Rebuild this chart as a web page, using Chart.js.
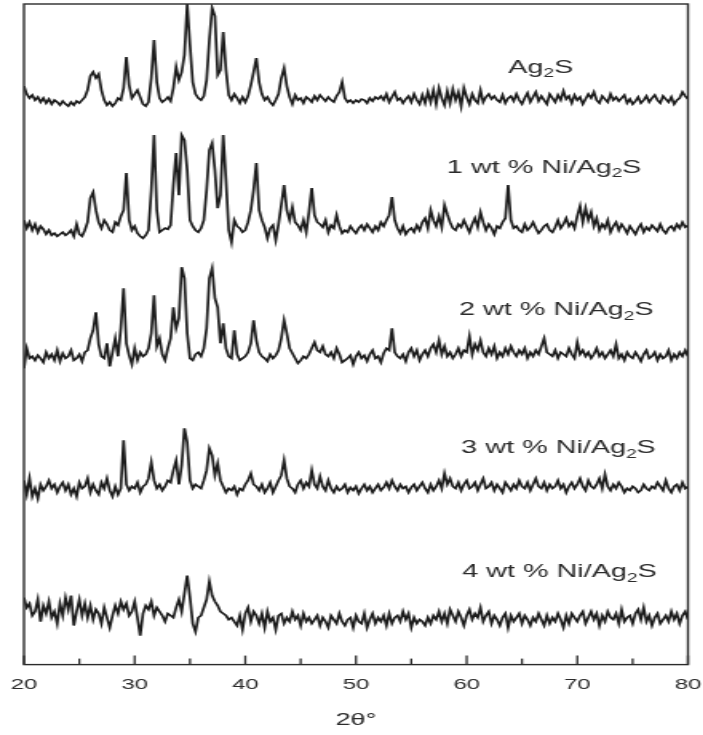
<!DOCTYPE html>
<html>
<head>
<meta charset="utf-8">
<script src="https://cdn.jsdelivr.net/npm/chart.js@4/dist/chart.umd.min.js"></script>
<style>
  html, body { margin: 0; padding: 0; background: #fff; overflow: hidden; }
  /* the figure is drawn narrow and widened, like the printed plate */
  #wrap { width: 440px; height: 735px; transform: scale(1.598, 1); transform-origin: 0 0; }
</style>
</head>
<body>
<div id="wrap"><canvas id="chart-canvas"></canvas></div>
<script>
// scan: 20-80 deg 2theta, 0.25 deg step
const twoTheta = Array.from({ length: 241 }, (_, i) => 20 + i * 0.25);

const majorTicks = [20, 30, 40, 50, 60, 70, 80];
const minorTicks = [25, 35, 45, 55, 65, 75];

const sampleNames = ['Ag2S', '1 wt % Ni/Ag2S', '2 wt % Ni/Ag2S', '3 wt % Ni/Ag2S', '4 wt % Ni/Ag2S'];

// vertical offset of each pattern in the stack (a.u.)
const offsets = [564, 434, 306, 174, 47];

// intensities above background (a.u.), one row per degree
const ag2s = [
  14, 6, 2, 5,
  0, 3, -2, 2,
  -3, 1, -4, 0,
  -2, -5, -1, -4,
  -6, -2, -5, -1,
  -3, 0, 3, 10,
  24, 28, 22, 26,
  10, 0, -5, -2,
  -6, -3, 2, 0,
  12, 43, 15, 2,
  6, 10, 3, -4,
  -6, -2, 22, 60,
  18, 2, -2, 0,
  3, -1, 12, 33,
  20, 28, 45, 96,
  55, 18, 6, 2,
  0, 4, 20, 60,
  92, 84, 25, 30,
  68, 30, 5, 0,
  6, 2, -3, 3,
  -2, 4, 15, 28,
  42, 18, 6, 0,
  3, -2, -5, 0,
  6, 22, 32, 14,
  3, -4, 5, 0,
  2, -3, 3, 1,
  -2, 4, 0, 5,
  2, -1, 3, 0,
  -2, 4, 8, 18,
  2, -2, 0, -3,
  0, -2, 1, 0,
  -3, 2, -1, 3,
  1, 4, 0, 6,
  -2, 3, 8, 0,
  2, -3, 1, 4,
  -2, 6, 0, -4,
  5, -3, 8, -2,
  10, -4, 12, 2,
  -5, 9, -3, 11,
  0, 8, -6, 12,
  3, -4, 6, 0,
  -3, 10, -2, 3,
  6, 1, 4, 0,
  -2, 5, -3, 2,
  4, -1, 6, 0,
  -4, 2, 7, -2,
  3, 8, -1, 4,
  0, -4, 6, 2,
  -2, 5, 0, 9,
  1, 4, -3, 5,
  0, 3, -4, 1,
  6, 2, 8, 0,
  -3, 4, 1, -2,
  6, 0, 3, -1,
  2, 5, -3, 1,
  -4, -1, 3, -3,
  0, 4, -2, 2,
  5, 0, -3, 4,
  1, -2, 3, -4,
  0, 2, 8, 4,
  1
];

const ni1 = [
  10, 2, 8, 0,
  6, -2, 4, 1,
  -4, 0, -5, -3,
  -6, -4, -2, -5,
  -3, 0, -6, 6,
  -4, -6, 0, 8,
  32, 38, 20, 8,
  2, 10, 6, 0,
  -2, 8, 5, 14,
  20, 57, 10, 0,
  4, -3, -6, -8,
  -5, 0, 40, 95,
  20, -2, 0, 2,
  1, 5, 45, 77,
  35, 95, 90, 60,
  10, 4, 0, -2,
  2, 10, 40, 80,
  87, 60, 22, 35,
  95, 50, 0, -12,
  10, 4, 2, -2,
  0, 8, 20, 40,
  67, 20, 10, 3,
  -8, 2, 5, -10,
  6, 25, 45, 20,
  10, 23, 8, 5,
  0, 10, -2, 18,
  42, 15, 8, 6,
  3, 10, -2, 5,
  2, 15, 4, -3,
  0, -2, 4, 0,
  -3, 2, 5, 0,
  6, 2, -2, 4,
  0, 8, 4, 10,
  15, 33, 10, 2,
  -3, 4, -4, 0,
  2, -2, 5, 0,
  8, 12, 2, 20,
  10, 4, 14, 3,
  25, 16, 8, 2,
  0, 6, 3, 10,
  4, -2, 6, 12,
  3, 18, 8, 0,
  6, 2, -4, 4,
  2, 8, 12, 45,
  10, 2, 4, 0,
  -2, 6, 0, 3,
  8, 2, -3, 0,
  4, 6, 0, -2,
  3, 10, 2, 6,
  12, 4, 8, 2,
  14, 24, 8, 22,
  10, 18, 4, 12,
  0, 6, 2, 10,
  -2, 4, 8, 0,
  6, 2, -3, 4,
  0, -4, 2, 6,
  -2, 3, 0, 5,
  2, -1, 6, 0,
  -3, 2, 4, 0,
  6, 2, 8, 3,
  5
];

const ni2 = [
  -10, 10, 0, 2,
  -2, 3, 0, -4,
  6, 0, 4, -2,
  8, -3, 5, 0,
  2, 8, -2, 0,
  4, -3, 6, 8,
  20, 28, 46, 14,
  2, 0, 15, -8,
  6, 20, 2, 30,
  70, 15, 3, -6,
  10, -2, 6, 2,
  4, 10, 25, 63,
  12, 20, 4, -2,
  10, 20, 51, 30,
  40, 91, 80, 25,
  0, -2, 4, 6,
  2, 10, 30, 80,
  90, 60, 51, 15,
  35, 10, 2, 0,
  28, 4, -2, 0,
  2, 6, 15, 38,
  18, 6, 2, 0,
  -3, 4, 0, 3,
  8, 20, 38, 25,
  10, 5, 0, -5,
  -2, 2, 0, 4,
  10, 16, 8, 6,
  12, 4, 2, 6,
  0, 10, 4, -4,
  -2, 0, 3, -6,
  2, 6, 0, 3,
  -3, 4, 8, 0,
  2, -4, 5, 10,
  8, 30, 6, 2,
  0, 4, -3, 6,
  10, 2, 8, -2,
  4, 8, 2, 10,
  14, 6, 18, 4,
  12, 2, 6, 0,
  4, 10, 2, 8,
  6, 22, 4, 14,
  8, 18, 6, 2,
  10, 4, 12, 0,
  6, 2, 10, 4,
  12, 6, 2, 8,
  4, 10, 0, 6,
  2, 8, 4, 12,
  20, 6, 4, 2,
  8, 0, 6, 4,
  2, 10, 4, 0,
  16, 4, 8, 2,
  6, 0, 4, 10,
  2, 6, 0, 4,
  8, 2, 14, 0,
  4, -2, 6, 2,
  0, 6, 2, -3,
  4, 8, 0, 2,
  6, -2, 4, 0,
  2, 8, -2, 4,
  0, 6, 2, 8,
  2
];

const ni3 = [
  10, -4, 12, -6,
  2, -8, 6, 0,
  4, 10, 2, 6,
  -2, 4, 8, 0,
  6, -4, 2, -6,
  8, 2, 4, 12,
  -2, 6, 0, -4,
  8, 2, 12, 0,
  -6, 4, -4, 2,
  50, 6, 0, 4,
  2, 8, -2, 4,
  6, 12, 28, 10,
  2, 6, 0, 4,
  10, 8, 20, 30,
  6, 25, 62, 48,
  10, 2, 6, 4,
  2, 10, 20, 42,
  35, 15, 27, 10,
  4, -2, 2, 0,
  4, -4, 2, 0,
  6, 10, 17, 6,
  4, 0, 6, -2,
  2, 8, -2, 4,
  10, 15, 30, 12,
  4, 2, -2, 6,
  10, 2, 8, 4,
  20, 6, 2, 14,
  4, 0, 10, 2,
  -2, 4, 0, 2,
  6, -2, 3, 0,
  4, -3, 2, 6,
  0, 4, -2, 2,
  6, 0, 3, 8,
  2, 10, 4, 0,
  6, 2, 4, -2,
  3, 6, 0, 4,
  8, 2, -2, 6,
  0, 4, 10, 2,
  17, 6, 12, 4,
  2, 8, 0, 6,
  10, 2, 4, 8,
  0, 6, 12, 2,
  4, 8, 0, 6,
  2, -2, 8, 4,
  0, 6, 2, 10,
  4, 2, 8, 0,
  6, 12, 4, 2,
  8, 0, 6, 2,
  4, 10, 2, 6,
  -2, 4, 8, 2,
  6, 12, 4, 0,
  10, 4, 2, 6,
  12, 2, 16, 4,
  0, 6, 2, 8,
  4, -2, 2, 0,
  4, 2, -2, 0,
  6, 2, 0, 4,
  2, 8, 4, 0,
  10, 2, -2, 4,
  6, 0, 8, 2,
  4
];

const ni4 = [
  20, 10, 14, 2,
  6, 18, -4, 12,
  4, 16, 0, 6,
  -6, 14, 2, 20,
  8, 22, -8, 6,
  18, 2, 14, 0,
  12, -2, 8, 4,
  -6, 10, 0, -10,
  2, 12, 4, 16,
  8, 14, 2, 6,
  16, 0, -18, 4,
  12, 8, 16, 2,
  10, 6, 2, -4,
  4, 2, 0, 10,
  18, 6, 24, 42,
  20, -6, -14, 0,
  2, 10, 18, 36,
  22, 16, 12, 6,
  4, 2, -2, 0,
  -4, -8, 2, -12,
  4, 10, -4, 6,
  2, -6, 4, -10,
  6, -4, 0, -12,
  2, 4, -6, 0,
  -4, 6, -2, 2,
  -8, 4, -4, 0,
  -6, -2, 2, -8,
  0, -4, -10, 2,
  -2, -6, 4, -4,
  -8, -2, 0, -10,
  2, -4, -6, 4,
  -10, -2, 4, -6,
  0, -4, 2, -8,
  4, -6, 0, 2,
  -4, 6, -2, 4,
  -10, 0, -6, -2,
  -4, -8, 0, -6,
  2, -2, 6, -4,
  4, -6, 8, 2,
  -4, 6, 0, -8,
  2, 8, -2, 4,
  0, 10, -4, 2,
  6, -6, 2, -2,
  -8, 0, 4, -10,
  2, -4, 0, 4,
  -6, 2, -2, -8,
  0, -4, 4, -2,
  -8, 2, -6, 0,
  -4, 4, -2, -10,
  2, -6, 4, 0,
  -4, 2, 6, -6,
  0, 6, -2, 4,
  -8, 2, -4, 6,
  0, -2, 4, -6,
  8, -4, 0, 2,
  -6, 4, 8, -2,
  10, -4, 2, -8,
  0, 4, -6, -2,
  2, -4, 6, -2,
  4, -6, 2, 6,
  -2
];

const patterns = [ag2s, ni1, ni2, ni3, ni4];

const ink = '#2b2b2b';

// box round the plot plus inward ticks on the 2theta axis
const frame = {
  id: 'frame',
  afterDatasetsDraw(chart) {
    const { ctx, chartArea: a, scales: { x } } = chart;
    ctx.save();
    ctx.strokeStyle = ink;
    ctx.lineWidth = 1.4;
    ctx.strokeRect(a.left, a.top, a.right - a.left, a.bottom - a.top);
    ctx.lineWidth = 1.3;
    const tick = (v, len) => {
      const px = x.getPixelForValue(v);
      ctx.beginPath();
      ctx.moveTo(px, a.bottom);
      ctx.lineTo(px, a.bottom - len);
      ctx.stroke();
    };
    majorTicks.forEach(v => tick(v, 9));
    minorTicks.forEach(v => tick(v, 6));
    ctx.restore();
  }
};

// sample names next to each pattern, with the subscript in Ag2S
const sampleTags = {
  id: 'sampleTags',
  afterDatasetsDraw(chart, args, opts) {
    const { ctx, scales: { x, y } } = chart;
    ctx.save();
    ctx.fillStyle = ink;
    ctx.textBaseline = 'middle';
    sampleNames.forEach((name, k) => {
      const [xv, yv] = opts.at[k];
      const m = name.match(/^(.*Ag)(2)(S)$/);
      const big = '18px "Liberation Sans", Arial, sans-serif';
      const small = '12px "Liberation Sans", Arial, sans-serif';
      ctx.font = big;
      const w1 = ctx.measureText(m[1]).width;
      const w3 = ctx.measureText(m[3]).width;
      ctx.font = small;
      const w2 = ctx.measureText(m[2]).width;
      let px = x.getPixelForValue(xv) - (w1 + w2 + w3) / 2;
      const py = y.getPixelForValue(yv);
      ctx.textAlign = 'left';
      ctx.font = big;
      ctx.fillText(m[1], px, py);
      px += w1;
      ctx.font = small;
      ctx.fillText(m[2], px, py + 6);
      px += w2;
      ctx.font = big;
      ctx.fillText(m[3], px, py);
    });
    ctx.restore();
  }
};

new Chart(document.getElementById('chart-canvas'), {
  type: 'line',
  plugins: [frame, sampleTags],
  data: {
    datasets: patterns.map((counts, k) => ({
      label: sampleNames[k],
      data: counts.map((c, i) => ({ x: twoTheta[i], y: c + offsets[k] })),
      borderColor: '#1c1c1c',
      borderWidth: 1.7,
      pointRadius: 0,
      tension: 0,
      fill: false
    }))
  },
  options: {
    responsive: true,
    maintainAspectRatio: false,
    animation: false,
    layout: { padding: { left: 15, right: 9.5, top: 4, bottom: 4 } },
    plugins: {
      legend: { display: false },
      tooltip: { enabled: false },
      sampleTags: {
        at: [[66.7, 596], [67.0, 496], [68.1, 354], [68.3, 216], [68.4, 92]]
      }
    },
    scales: {
      x: {
        type: 'linear',
        min: 20,
        max: 80,
        // tick marks are drawn by the frame plugin; tickLength only spaces the labels
        grid: { display: false, drawTicks: true, tickLength: 11 },
        border: { display: false },
        ticks: {
          stepSize: 10,
          padding: 0,
          color: ink,
          font: { family: '"Liberation Sans", Arial, sans-serif', size: 15 }
        },
        title: {
          display: true,
          text: '2θ°',
          color: ink,
          padding: { top: 17, bottom: 0 },
          font: { family: '"Liberation Sans", Arial, sans-serif', size: 17 }
        }
      },
      y: { display: false, min: 0, max: 660 }
    }
  }
});
</script>
</body>
</html>
